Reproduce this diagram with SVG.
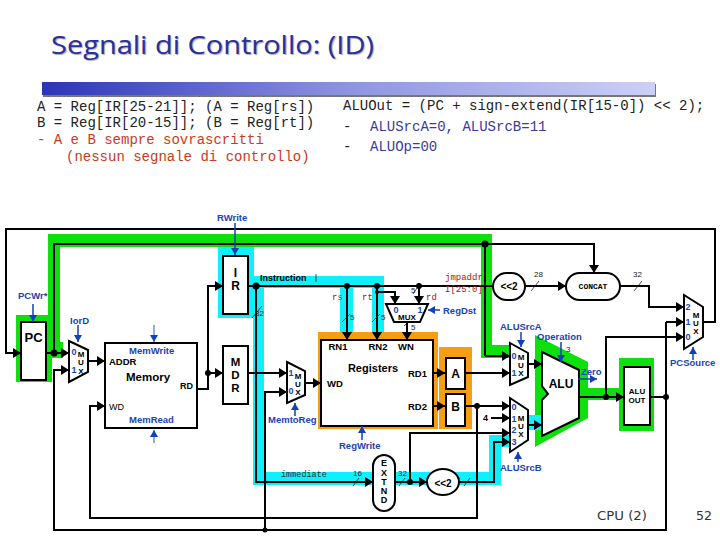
<svg xmlns="http://www.w3.org/2000/svg" width="720" height="540" viewBox="0 0 720 540">
<style>
.w{fill:none;stroke:#000;stroke-width:2}
.wa{fill:none;stroke:#000;stroke-width:2;marker-end:url(#ah)}
.c{fill:none;stroke:#1140b8;stroke-width:1.5;marker-end:url(#bh)}
.t{fill:none;stroke:#222;stroke-width:.8}
.n{fill:#fff;stroke:#000;stroke-width:2}
.g{fill:#0ee00e}.y{fill:#0ff0ff}.o{fill:#f59e14}
.s{font-family:"Liberation Sans",Arial,sans-serif;fill:#000}
.b{font-weight:bold}
.l{font-family:"Liberation Sans",Arial,sans-serif;font-size:9.5px;font-weight:bold;fill:#1a44b0}
.m{font-family:"Liberation Sans",Arial,sans-serif;font-size:8px;font-weight:bold;fill:#000;text-anchor:middle}
.mb{font-family:"Liberation Sans",Arial,sans-serif;font-size:9px;font-weight:bold;fill:#1a44b0;text-anchor:middle}
.r{font-family:"Liberation Mono",monospace;font-size:9px;fill:#a01818}
.code{font-family:"Liberation Mono","Courier New",monospace;font-size:14px;fill:#222}
.red{fill:#c83a22}.pur{fill:#3b3b9c}
.mid{text-anchor:middle}
.num{font-family:"Liberation Sans",Arial,sans-serif;font-size:8px;fill:#222}
</style>
<defs>
<marker id="ah" markerUnits="userSpaceOnUse" markerWidth="9" markerHeight="10" refX="8" refY="5" orient="auto"><path d="M0 0L8 5L0 10Z" fill="#000"/></marker>
<marker id="bh" markerUnits="userSpaceOnUse" markerWidth="8" markerHeight="8" refX="7" refY="4" orient="auto"><path d="M0 0L7 4L0 8Z" fill="#1140b8"/></marker>
<linearGradient id="bar" x1="0" x2="1" y1="0" y2="0"><stop offset="0" stop-color="#2a35b8"/><stop offset=".5" stop-color="#8f94e0"/><stop offset="1" stop-color="#ccd0f6"/></linearGradient>
</defs>
<rect width="720" height="540" fill="#fff"/>

<g id="title">
<text x="51" y="54" textLength="323" lengthAdjust="spacingAndGlyphs" style="font-family:'Open Sans','Noto Sans',sans-serif;font-size:25px;fill:#2a2f9e;text-shadow:1px 1px 1px #aaa">Segnali di Controllo: (ID)</text>
<rect x="43" y="84" width="613" height="13" fill="#777"/>
<rect x="42" y="82" width="613" height="13" fill="url(#bar)"/>
</g>

<g id="notes">
<text class="code" x="37" y="111">A = Reg[IR[25-21]]; (A = Reg[rs])</text>
<text class="code" x="37" y="127">B = Reg[IR[20-15]]; (B = Reg[rt])</text>
<text class="code red" x="37" y="144">- A e B sempre sovrascritti</text>
<text class="code red" x="66" y="161">(nessun segnale di controllo)</text>
<text class="code" x="343" y="110">ALUOut = (PC + sign-extend(IR[15-0]) &lt;&lt; 2);</text>
<text class="code" x="343" y="131">-</text><text class="code pur" x="370" y="131">ALUSrcA=0, ALUSrcB=11</text>
<text class="code" x="343" y="151">-</text><text class="code pur" x="370" y="151">ALUOp=00</text>
</g>

<g id="highlights">
<path class="g" d="M16 315H48V234H492V345H510V358H481V247H60V342H63V358H52V382H16Z"/>
<path class="g" d="M535 335L588 362V388H619V358H654V431H619V400H588V418L535 447Z"/>
<path class="y" d="M218 247H254V276H384V332H372V288H353V332H340V288H264V472H378V485H253V318H218Z"/>
<path class="y" d="M394 472H489V435H510V447H501V485H394Z"/>
<rect class="y" x="527" y="415" width="15" height="15"/>
<rect class="o" x="318" y="332" width="120" height="97"/>
<rect class="o" x="439" y="347" width="33" height="82"/>
</g>

<g id="connectors">
<path class="wa" d="M703 322H715V229H6V353H21"/>
<path class="wa" d="M46 353H69"/>
<path class="w" d="M54 353V244H485V356"/>
<path class="wa" d="M485 356H510"/>
<path class="wa" d="M485 244H594V273"/>
<path class="wa" d="M88 361H105"/>
<path class="wa" d="M666 322V530H54V370H69"/>
<path class="wa" d="M666 322H684"/>
<path class="wa" d="M265 530V392H287"/>
<path class="wa" d="M477 406V518H90V406H105"/>
<path class="wa" d="M197 389H208V286H223"/>
<path class="wa" d="M208 373H223"/>
<path class="wa" d="M248 373H287"/>
<path class="wa" d="M305 383H321"/>
<path class="w" d="M248 286H493"/>
<path class="wa" d="M256 286V482H373"/>
<path class="wa" d="M347 286V340"/>
<path class="wa" d="M377 286V340"/>
<path class="wa" d="M377 292H395V304"/>
<path class="wa" d="M419 286V304"/>
<path class="wa" d="M407 322V340"/>
<path class="wa" d="M525 286H566"/>
<path class="wa" d="M620 286H649V307H684"/>
<path class="wa" d="M606 397V337H684"/>
<path class="wa" d="M579 397H624"/>
<path class="w" d="M650 397H666"/>
<path class="wa" d="M433 373H445"/>
<path class="wa" d="M465 373H510"/>
<path class="wa" d="M433 406H445"/>
<path class="wa" d="M465 406H510"/>
<path class="wa" d="M491 418H510"/>
<path class="wa" d="M410 482V433H510"/>
<path class="wa" d="M395 482H427"/>
<path class="wa" d="M459 482H494V442H510"/>
<path class="wa" d="M528 364H542"/>
<path class="wa" d="M528 425H542"/>
<g fill="#000">
<circle cx="54" cy="353" r="3.5"/><circle cx="208" cy="373" r="3"/><circle cx="256" cy="286" r="3.5"/>
<circle cx="347" cy="286" r="3"/><circle cx="377" cy="286" r="3"/><circle cx="377" cy="292" r="2"/>
<circle cx="419" cy="286" r="3"/><circle cx="485" cy="244" r="3.5"/><circle cx="606" cy="397" r="3"/>
<circle cx="666" cy="397" r="3"/><circle cx="477" cy="406" r="3"/><circle cx="410" cy="482" r="3"/>
<circle cx="265" cy="530" r="2.5"/>
</g>
<path class="t" d="M252 318L262 306M316 274V282M342 322L350 314M372 322L380 314M404 326L412 318M413 294L417 288M531 291L539 281M634 291L642 281M353 486L359 478M399 486L405 478M464 486L470 478"/>
</g>

<g id="PC"><rect class="n" x="21" y="322" width="25" height="58"/><text class="s b mid" x="33.500" y="342" font-size="13">PC</text></g>
<g id="mux-iord"><path class="n" d="M69 341L88 350V372L69 382Z"/><text class="mb" x="74" y="355">0</text><text class="mb" x="74" y="373">1</text><text class="m" x="81" y="357">M</text><text class="m" x="81" y="365">U</text><text class="m" x="81" y="374">X</text></g>
<g id="memory"><rect class="n" x="105" y="343" width="92" height="85"/>
<text class="s b" x="109" y="365" font-size="9.500">ADDR</text><text class="s b mid" x="148" y="381" font-size="11.500">Memory</text><text class="s b" x="180" y="389" font-size="9">RD</text><text class="s" x="109" y="410" font-size="9">WD</text></g>
<g id="IR"><rect class="n" x="223" y="256" width="25" height="58"/><text class="s b mid" x="235.500" y="277" font-size="12">I</text><text class="s b mid" x="235.500" y="290" font-size="12">R</text></g>
<g id="MDR"><rect class="n" x="223" y="346" width="25" height="58"/><text class="s b mid" x="235.500" y="366" font-size="11.500">M</text><text class="s b mid" x="235.500" y="379" font-size="11.500">D</text><text class="s b mid" x="235.500" y="392" font-size="11.500">R</text></g>
<g id="mux-memtoreg"><path class="n" d="M287 362L305 371V395L287 403Z"/><text class="mb" x="291" y="376">1</text><text class="mb" x="291" y="394">0</text><text class="m" x="298" y="379">M</text><text class="m" x="298" y="387">U</text><text class="m" x="298" y="395">X</text></g>
<g id="registers"><rect class="n" x="321" y="340" width="112" height="86"/>
<text class="s b mid" x="338" y="350" font-size="9.500">RN1</text><text class="s b mid" x="378" y="350" font-size="9.500">RN2</text><text class="s b mid" x="406" y="350" font-size="9.500">WN</text>
<text class="s b mid" x="373" y="372" font-size="11">Registers</text><text class="s b" x="408" y="377" font-size="9.500">RD1</text><text class="s b" x="408" y="410" font-size="9.500">RD2</text><text class="s b" x="327" y="387" font-size="9.500">WD</text></g>
<g id="A"><rect class="n" x="446" y="358" width="19" height="31"/><text class="s b mid" x="455.500" y="378" font-size="12">A</text></g>
<g id="B"><rect class="n" x="446" y="394" width="19" height="32"/><text class="s b mid" x="455.500" y="411" font-size="12">B</text></g>
<g id="mux-regdst"><path class="n" d="M386 304H428L420 322H394Z"/><text class="mb" x="396" y="313">0</text><text class="mb" x="420" y="313">1</text><text class="m" x="407" y="320">MUX</text></g>
<g id="mux-alusrca"><path class="n" d="M510 343L528 353V377L510 385Z"/><text class="mb" x="514" y="359">0</text><text class="mb" x="514" y="376">1</text><text class="m" x="521" y="360">M</text><text class="m" x="521" y="368">U</text><text class="m" x="521" y="376">X</text></g>
<g id="mux-alusrcb"><path class="n" d="M510 398L528 410V440L510 452Z"/><text class="mb" x="514" y="410">0</text><text class="mb" x="514" y="422">1</text><text class="mb" x="514" y="433">2</text><text class="mb" x="514" y="445">3</text><text class="m" x="521" y="421">M</text><text class="m" x="521" y="429">U</text><text class="m" x="521" y="437">X</text></g>
<g id="ALU"><path class="n" d="M542 352L579 370V418L542 436V400L548 394L542 386Z"/><text class="s b mid" x="561" y="388" font-size="12">ALU</text></g>
<g id="ALUOUT"><rect class="n" x="624" y="367" width="26" height="58"/><text class="s b mid" x="637" y="394" font-size="8">ALU</text><text class="s b mid" x="637" y="403" font-size="8">OUT</text></g>
<g id="mux-pcsource"><path class="n" d="M684 295L703 307V337L684 349Z"/><text class="mb" x="688" y="310">2</text><text class="mb" x="688" y="325">1</text><text class="mb" x="688" y="340">0</text><text class="m" x="696" y="318">M</text><text class="m" x="696" y="326">U</text><text class="m" x="696" y="334">X</text></g>
<g id="shift-jump"><rect class="n" x="493" y="273" width="32" height="27" rx="13.500"/><text class="s b mid" x="509" y="290" font-size="10">&lt;&lt;2</text></g>
<g id="concat"><rect class="n" x="566" y="273" width="54" height="27" rx="13.500"/><text class="mid" x="593" y="289" style="font-family:'Liberation Mono',monospace;font-size:8px;font-weight:bold">CONCAT</text></g>
<g id="extend"><rect class="n" x="373" y="455" width="22" height="56" rx="11"/><text class="s b mid" x="384" y="466" font-size="9">E</text><text class="s b mid" x="384" y="476" font-size="9">X</text><text class="s b mid" x="384" y="485" font-size="9">T</text><text class="s b mid" x="384" y="494" font-size="9">N</text><text class="s b mid" x="384" y="503" font-size="9">D</text></g>
<g id="shift-imm"><ellipse class="n" cx="443" cy="482" rx="16" ry="13"/><text class="s b mid" x="443" y="487" font-size="10">&lt;&lt;2</text></g>

<g id="control-signals">
<path class="c" d="M235 223V255"/><text class="l" x="217" y="221">RWrite</text>
<path class="c" d="M33 304V322"/><text class="l" x="18" y="299">PCWr*</text>
<path class="c" d="M78 325V342"/><text class="l" x="70" y="324">IorD</text>
<path class="c" d="M154 325V342" stroke-opacity=".6"/><text class="l" x="129" y="354">MemWrite</text>
<path class="c" d="M154 443V430" stroke-opacity=".6"/><text class="l" x="129" y="423">MemRead</text>
<path class="c" d="M295 416V403"/><text class="l" x="268" y="423">MemtoReg</text>
<path class="c" d="M362 440V426"/><text class="l" x="339" y="449">RegWrite</text>
<path class="c" d="M518 462V452"/><text class="l" x="500" y="471">ALUSrcB</text>
<path class="c" d="M693 360V347"/><text class="l" x="670" y="366">PCSource</text>
<path class="c" d="M521 332V347"/><text class="l" x="500" y="330">ALUSrcA</text>
<path class="c" d="M561 342V362"/><text class="l" x="537" y="340">Operation</text>
<path class="c" d="M578 379H597"/><text class="l" x="581" y="375">Zero</text>
<path class="c" d="M440 310H428"/><text class="l" x="443" y="314">RegDst</text>
</g>

<g id="wire-labels">
<text class="s" x="260" y="281" font-size="9" font-weight="bold" fill="#222">Instruction</text>
<text class="num" x="255" y="316">32</text>
<text class="r" x="332" y="300">rs</text><text class="r" x="362" y="300">rt</text><text class="r" x="426" y="300">rd</text>
<text class="r" x="445" y="280">jmpaddr</text><text class="r" x="445" y="292">I[25:0]</text>
<text class="num" x="411" y="293">5</text><text class="num" x="350" y="320">5</text><text class="num" x="381" y="320">5</text><text class="num" x="411" y="330">5</text>
<text class="num" x="534" y="277">28</text><text class="num" x="633" y="277">32</text>
<text class="num" x="566" y="352">3</text>
<text class="num" x="353" y="476">16</text><text class="num" x="398" y="476">32</text>
<text class="s b" x="483" y="421" font-size="9">4</text>
<text x="281" y="477" style="font-family:'Liberation Mono',monospace;font-size:8.500px;fill:#333">immediate</text>
</g>

<g id="footer">
<text x="597" y="520" style="font-family:'DejaVu Sans',sans-serif;font-size:13px;fill:#333" textLength="50" lengthAdjust="spacingAndGlyphs">CPU (2)</text>
<text x="696" y="520" style="font-family:'DejaVu Sans',sans-serif;font-size:13px;fill:#333" textLength="16" lengthAdjust="spacingAndGlyphs">52</text>
</g>
</svg>
